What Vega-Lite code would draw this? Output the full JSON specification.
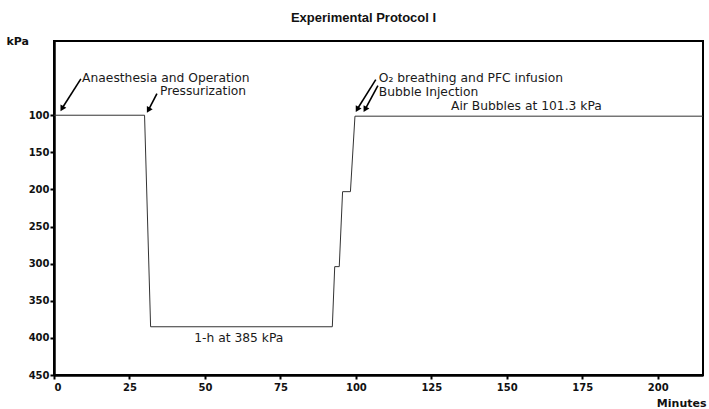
{
  "$schema": "https://vega.github.io/schema/vega-lite/v6.json",
  "width": 649,
  "height": 334,
  "autosize": {"type": "none"},
  "padding": {"left": 54, "top": 41, "right": 6, "bottom": 34},
  "background": "white",
  "title": {
    "text": "Experimental Protocol I",
    "font": "Liberation Sans",
    "fontSize": 13,
    "fontWeight": "bold",
    "color": "#111",
    "anchor": "middle",
    "dx": -15,
    "offset": 10
  },
  "config": {
    "view": {"stroke": "black", "strokeWidth": 2},
    "axis": {
      "grid": false,
      "domainColor": "black",
      "domainWidth": 2.5,
      "tickColor": "black",
      "tickWidth": 2,
      "tickSize": 4,
      "labelFont": "DejaVu Sans",
      "labelFontWeight": "bold",
      "labelFontSize": 10,
      "labelColor": "#111",
      "titleFont": "DejaVu Sans",
      "titleFontWeight": "bold",
      "titleFontSize": 11,
      "titleColor": "#111"
    },
    "text": {"font": "DejaVu Sans", "fontSize": 12.3, "color": "#1a1a1a"}
  },
  "datasets": {
    "protocol": [
      {"minutes": 0, "kPa": 100},
      {"minutes": 30, "kPa": 100},
      {"minutes": 32, "kPa": 385},
      {"minutes": 92.2, "kPa": 385},
      {"minutes": 93, "kPa": 304},
      {"minutes": 94.5, "kPa": 304},
      {"minutes": 95.6, "kPa": 203},
      {"minutes": 98.2, "kPa": 203},
      {"minutes": 99.7, "kPa": 101.3},
      {"minutes": 215, "kPa": 101.3}
    ],
    "arrows": [
      {"x0": 8.9, "y0": 51, "x1": 2.8, "y1": 90},
      {"x0": 34.1, "y0": 71, "x1": 31.4, "y1": 92},
      {"x0": 106.6, "y0": 52, "x1": 100.6, "y1": 91},
      {"x0": 107.3, "y0": 60, "x1": 103.2, "y1": 91}
    ],
    "notes": [
      {"minutes": 9.3, "kPa": 50, "label": "Anaesthesia and Operation", "align": "left"},
      {"minutes": 35.1, "kPa": 67.5, "label": "Pressurization", "align": "left"},
      {"minutes": 107.6, "kPa": 50, "label": "O₂ breathing and PFC infusion", "align": "left"},
      {"minutes": 107.6, "kPa": 68.5, "label": "Bubble Injection", "align": "left"},
      {"minutes": 156.5, "kPa": 87, "label": "Air Bubbles at 101.3 kPa", "align": "center"},
      {"minutes": 61.2, "kPa": 400, "label": "1-h at 385 kPa", "align": "center"}
    ]
  },
  "layer": [
    {
      "data": {"name": "protocol"},
      "mark": {"type": "line", "color": "#333", "strokeWidth": 1},
      "encoding": {
        "x": {
          "field": "minutes",
          "type": "quantitative",
          "scale": {"domain": [0, 215], "nice": false},
          "axis": {
            "values": [0, 25, 50, 75, 100, 125, 150, 175, 200],
            "labelPadding": 3,
            "title": "Minutes",
            "titleAlign": "right",
            "titleBaseline": "middle",
            "titleX": 652,
            "titleY": 28
          }
        },
        "y": {
          "field": "kPa",
          "type": "quantitative",
          "scale": {"domain": [0, 450], "reverse": true, "nice": false},
          "axis": {
            "values": [100, 150, 200, 250, 300, 350, 400, 450],
            "labelPadding": 1,
            "title": "kPa",
            "titleAngle": 0,
            "titleAlign": "left",
            "titleBaseline": "middle",
            "titleX": -48,
            "titleY": 0
          }
        }
      }
    },
    {
      "data": {"name": "arrows"},
      "mark": {"type": "rule", "color": "black", "strokeWidth": 1.6},
      "encoding": {
        "x": {"field": "x0", "type": "quantitative"},
        "y": {"field": "y0", "type": "quantitative"},
        "x2": {"field": "x1"},
        "y2": {"field": "y1"}
      }
    },
    {
      "data": {"name": "arrows"},
      "mark": {"type": "point", "shape": "triangle", "filled": true, "color": "black", "size": 45, "angle": 210, "opacity": 1},
      "encoding": {
        "x": {"field": "x1", "type": "quantitative"},
        "y": {"field": "y1", "type": "quantitative"}
      }
    },
    {
      "data": {"name": "notes"},
      "transform": [{"filter": "datum.align === 'left'"}],
      "mark": {"type": "text", "align": "left", "baseline": "middle"},
      "encoding": {
        "x": {"field": "minutes", "type": "quantitative"},
        "y": {"field": "kPa", "type": "quantitative"},
        "text": {"field": "label"}
      }
    },
    {
      "data": {"name": "notes"},
      "transform": [{"filter": "datum.align === 'center'"}],
      "mark": {"type": "text", "align": "center", "baseline": "middle"},
      "encoding": {
        "x": {"field": "minutes", "type": "quantitative"},
        "y": {"field": "kPa", "type": "quantitative"},
        "text": {"field": "label"}
      }
    }
  ]
}
